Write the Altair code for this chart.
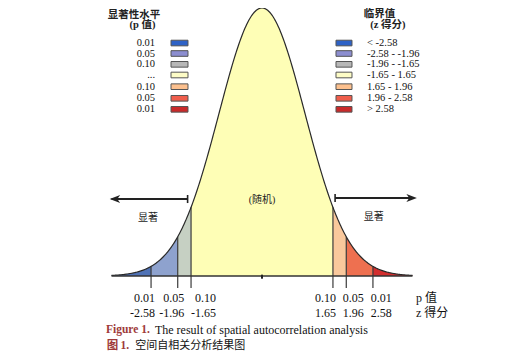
import altair as alt
import numpy as np
import pandas as pd

# ---- data ----
bounds = [-3.5, -2.58, -1.96, -1.65, 1.65, 1.96, 2.58, 3.5]
segments = ["s1", "s2", "s3", "s4", "s5", "s6", "s7"]
fill_colors = ["#4f72b6", "#8ea2ce", "#c6d0c3", "#fefeb6", "#f9c89c", "#ee7050", "#d22e2e"]

cut_z = [-2.58, -1.96, -1.65, 1.65, 1.96, 2.58]
p_labels = ["0.01", "0.05", "0.10", "0.10", "0.05", "0.01"]
z_labels = ["-2.58", "-1.96", "-1.65", "1.65", "1.96", "2.58"]

legend_p = ["0.01", "0.05", "0.10", "...", "0.10", "0.05", "0.01"]
legend_z = ["< -2.58", "-2.58 - -1.96", "-1.96 - -1.65", "-1.65 - 1.65",
            " 1.65 - 1.96", " 1.96 - 2.58", "> 2.58"]
legend_colors = ["#2e62c6", "#8c8ed0", "#b7b7b7", "#fdfcc6", "#fcc08e", "#ef5e4c", "#c92a2a"]

# ---- layout (data units: z on x, density on y) ----
XDOM = [-5.907, 6.070]
YDOM = [-0.11462, 0.39894]
legend_rows = [0.3468, 0.3312, 0.3151, 0.2992, 0.2818, 0.2645, 0.2481]

SERIF = "Liberation Serif, Noto Sans CJK SC"
CJK = "Noto Sans CJK SC"

xs = alt.Scale(domain=XDOM, nice=False, zero=False)
ys = alt.Scale(domain=YDOM, nice=False, zero=False)

def X(field="z"):
    return alt.X(f"{field}:Q", scale=xs, axis=None)

def Y(field="v"):
    return alt.Y(f"{field}:Q", scale=ys, axis=None)

# segments
rows = []
for i, s in enumerate(segments):
    for z in np.linspace(bounds[i], bounds[i + 1], 60):
        rows.append({"z": float(z), "seg": s})
seg_df = pd.DataFrame(rows)

areas = alt.Chart(seg_df).transform_calculate(
    v="densityNormal(datum.z, 0, 1)"
).mark_area(opacity=1).encode(
    x=X(), y=Y(), y2=alt.datum(0),
    color=alt.Color("seg:N", scale=alt.Scale(domain=segments, range=fill_colors), legend=None),
    detail="seg:N",
)

curve_df = pd.DataFrame({"z": np.linspace(bounds[0], bounds[-1], 400)})
curve = alt.Chart(curve_df).transform_calculate(
    v="densityNormal(datum.z, 0, 1)"
).mark_line(color="#2a2a2a", strokeWidth=1.2).encode(x=X(), y=Y())

baseline = alt.Chart(pd.DataFrame({"z": [bounds[0]], "z2": [bounds[-1]], "v": [0.0]})).mark_rule(
    color="#333", strokeWidth=1.4).encode(x=X(), x2="z2:Q", y=Y())

zero_tick = alt.Chart(pd.DataFrame({"z": [0.0], "v": [0.002], "v2": [-0.004]})).mark_rule(
    color="#222", strokeWidth=2).encode(x=X(), y=Y(), y2="v2:Q")

cut_df = pd.DataFrame({"z": cut_z, "p": p_labels, "zl": z_labels})
cut_rules = alt.Chart(cut_df).transform_calculate(
    v="densityNormal(datum.z, 0, 1)"
).mark_rule(color="#3a3a3a", strokeWidth=1.2).encode(x=X(), y=Y(), y2=alt.datum(-0.0179))

# tick labels
lab_left = pd.DataFrame({"z": [-2.49, -1.81, -1.07], "p": p_labels[:3], "zl": z_labels[:3]})
lab_right = pd.DataFrame({"z": [1.23, 1.88, 2.53], "p": p_labels[3:], "zl": z_labels[3:]})
def tick_text(df, field, v, align):
    return alt.Chart(df).transform_calculate(v=str(v)).mark_text(
        align=align, baseline="middle", font=SERIF, fontSize=12, color="#111"
    ).encode(x=X(), y=Y(), text=f"{field}:N")

tick_texts = [
    tick_text(lab_left, "p", -0.0327, "right"),
    tick_text(lab_left, "zl", -0.0546, "right"),
    tick_text(lab_right, "p", -0.0327, "left"),
    tick_text(lab_right, "zl", -0.0546, "left"),
]
axis_names = alt.Chart(pd.DataFrame({"z": [3.58, 3.58], "v": [-0.0327, -0.0546], "t": ["p 值", "z 得分"]})).mark_text(
    align="left", baseline="middle", font=SERIF, fontSize=12, color="#111"
).encode(x=X(), y=Y(), text="t:N")

# arrows
arrow_shaft = alt.Chart(pd.DataFrame({"z": [-3.50, 1.70], "z2": [-1.73, 3.52], "v": [0.1146, 0.1161]})).mark_rule(
    color="#222", strokeWidth=1.8).encode(x=X(), x2="z2:Q", y=Y())
arrow_bars = alt.Chart(pd.DataFrame({"z": [-1.73, 1.70], "v": [0.1206, 0.1221], "v2": [0.1086, 0.1101]})).mark_rule(
    color="#222", strokeWidth=1.6).encode(x=X(), y=Y(), y2="v2:Q")
head_l = alt.Chart(pd.DataFrame({"z": [-3.42], "v": [0.1146]})).mark_point(
    shape="M-1,0L1,-0.75L0.45,0L1,0.75Z", filled=True, color="#222", size=110, opacity=1
).encode(x=X(), y=Y())
head_r = alt.Chart(pd.DataFrame({"z": [3.48], "v": [0.1161]})).mark_point(
    shape="M1,0L-1,-0.75L-0.45,0L-1,0.75Z", filled=True, color="#222", size=110, opacity=1
).encode(x=X(), y=Y())

notes = alt.Chart(pd.DataFrame({
    "z": [-2.65, 2.60, 0.0],
    "v": [0.0863, 0.0878, 0.113],
    "t": ["显著", "显著", "(随机)"],
})).mark_text(font=SERIF, fontSize=10, color="#222", baseline="middle").encode(x=X(), y=Y(), text="t:N")

# legends
leg_df = pd.DataFrame({"p": legend_p, "zl": legend_z, "c": legend_colors, "v": legend_rows})
leg_df["v1"] = leg_df["v"] - 0.0042
leg_df["v2"] = leg_df["v"] + 0.0042

leg_l_sw = alt.Chart(leg_df).transform_calculate(z="-2.116", z2="-1.721").mark_rect(
    stroke="#555", strokeWidth=1).encode(
    x=X(), x2="z2:Q", y=Y("v1"), y2="v2:Q", fill=alt.Fill("c:N", scale=None))
leg_l_tx = alt.Chart(leg_df).transform_calculate(z="-2.488").mark_text(
    align="right", baseline="middle", font=SERIF, fontSize=10.5, color="#111").encode(x=X(), y=Y(), text="p:N")
leg_r_sw = alt.Chart(leg_df).transform_calculate(z="1.721", z2="2.093").mark_rect(
    stroke="#555", strokeWidth=1).encode(
    x=X(), x2="z2:Q", y=Y("v1"), y2="v2:Q", fill=alt.Fill("c:N", scale=None))
leg_r_tx = alt.Chart(leg_df).transform_calculate(z="2.442").mark_text(
    align="left", baseline="middle", font=SERIF, fontSize=10.5, color="#111").encode(x=X(), y=Y(), text="zl:N")

leg_titles = alt.Chart(pd.DataFrame({
    "z": [-2.977, -2.78, 2.733, 2.93],
    "v": [0.3885, 0.3741, 0.3900, 0.3736],
    "t": ["显著性水平", "(p 值)", "临界值", "(z 得分)"],
})).mark_text(font=SERIF, fontSize=10.5, fontWeight="bold", color="#222", baseline="middle").encode(
    x=X(), y=Y(), text="t:N")

# caption
CAP1 = -0.0800
CAP2 = -0.1045
cap_red1 = alt.Chart(pd.DataFrame({
    "z": [-3.63], "v": [CAP1], "t": ["Figure 1."],
})).mark_text(align="left", baseline="middle", font="Liberation Serif", fontSize=11.5, fontWeight="bold",
              color="#9e3a3a").encode(x=X(), y=Y(), text="t:N")
cap_red2 = alt.Chart(pd.DataFrame({
    "z": [-3.612, -3.29], "v": [CAP2, CAP2], "t": ["图", "1."],
})).mark_text(align="left", baseline="middle", font=SERIF, fontSize=11.5, fontWeight="bold", color="#9e3a3a").encode(
    x=X(), y=Y(), text="t:N")
cap_black = alt.Chart(pd.DataFrame({
    "z": [-2.49], "v": [CAP1], "t": ["The result of spatial autocorrelation analysis"],
})).mark_text(align="left", baseline="middle", font="Liberation Serif", fontSize=12, color="#111").encode(
    x=X(), y=Y(), text="t:N")
cap_cn = alt.Chart(pd.DataFrame({
    "z": [-2.95], "v": [CAP2], "t": ["空间自相关分析结果图"],
})).mark_text(align="left", baseline="middle", font=CJK, fontSize=11, color="#111").encode(
    x=X(), y=Y(), text="t:N")

chart = alt.layer(
    areas, cut_rules, curve, baseline, zero_tick,
    *tick_texts, axis_names,
    arrow_shaft, arrow_bars, head_l, head_r, notes,
    leg_l_sw, leg_l_tx, leg_r_sw, leg_r_tx, leg_titles,
    cap_red1, cap_red2, cap_black, cap_cn,
).properties(width=515, height=345, autosize="none", padding=0).configure_view(stroke=None)

chart.save("out.html", embed_options={"renderer": "svg", "actions": False})
